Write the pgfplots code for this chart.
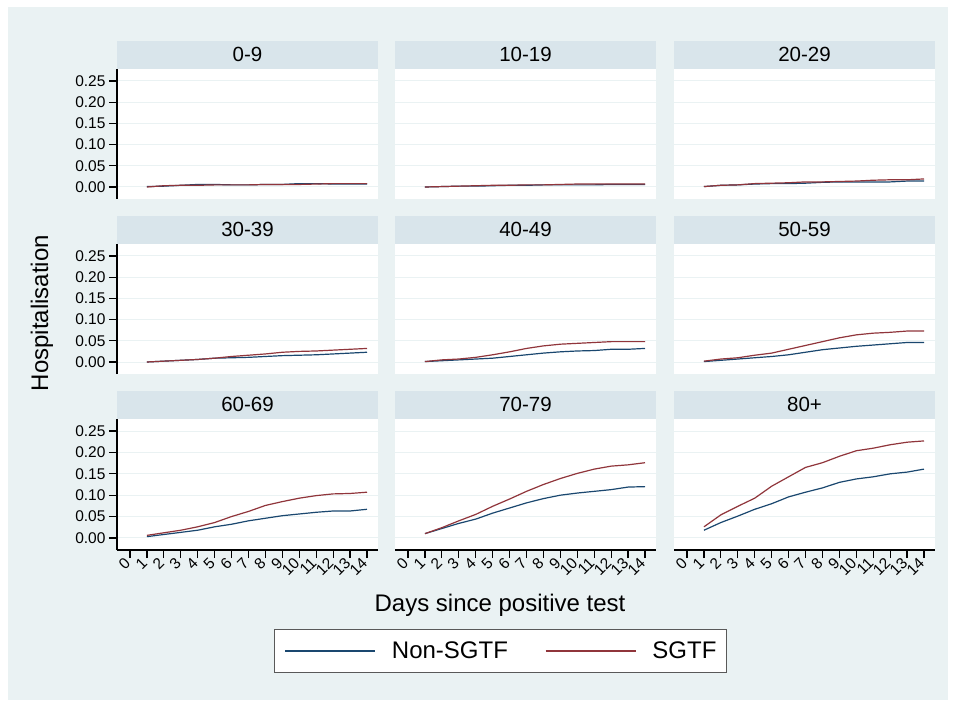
\documentclass[border=0pt]{standalone}
\usepackage{pgfplots}
\pgfplotsset{compat=1.18}
\usepackage{fontspec}
\setmainfont{Liberation Sans}

\definecolor{bgcol}{RGB}{234,242,243}
\definecolor{stripcol}{RGB}{217,229,235}
\definecolor{gridcol}{RGB}{234,242,243}
\definecolor{navy}{RGB}{26,71,111}
\definecolor{maroon}{RGB}{144,53,59}

\pgfplotsset{
  panel/.style={
    scale only axis, width=261pt, height=130pt,
    xmin=-0.77, xmax=14.65, ymin=-0.0283, ymax=0.2783,
    axis background/.style={fill=white},
    axis lines*=left,
    axis line style={line width=1.2pt, black},
    ytick={0,0.05,0.1,0.15,0.2,0.25},
    ymajorgrids, grid style={gridcol, line width=1pt},
    tick align=outside, major tick length=8pt,
    tick style={line width=1.2pt, black},
    /pgf/number format/assume math mode=true,
    yticklabel style={/pgf/number format/.cd, fixed, fixed zerofill, precision=2, /tikz/.cd,
      font=\fontsize{15.5}{18}\selectfont},
    every axis title/.style={at={(0.5,1)}, anchor=south, fill=stripcol,
      text width=261pt, minimum height=28pt, inner sep=0pt, align=center,
      font=\fontsize{20.5}{24}\selectfont},
    xtick=\empty,
    every axis plot/.append style={line width=1.2pt, no markers},
  },
  nox/.style={x axis line style={draw=none}},
  noy/.style={y axis line style={draw=none}, yticklabels={}, ytick style={draw=none}},
  withx/.style={xtick={0,...,14},
    xticklabel style={rotate=45, anchor=east, font=\fontsize{15.5}{18}\selectfont}},
}

\begin{document}
\begin{tikzpicture}[x=1pt,y=1pt]
\fill[white] (0,0) rectangle (957,702);
\fill[bgcol] (8,2) rectangle (948,695);

% row 1
\begin{axis}[panel, nox, at={(117pt,503pt)}, title={0-9}]
\addplot[navy] coordinates {(1,0.001) (2,0.002) (3,0.004) (4,0.006) (5,0.006) (6,0.005) (7,0.005) (8,0.006) (9,0.006) (10,0.008) (11,0.008) (12,0.007) (13,0.007) (14,0.007)};
\addplot[maroon] coordinates {(1,0.000) (2,0.003) (3,0.004) (4,0.004) (5,0.005) (6,0.005) (7,0.005) (8,0.006) (9,0.006) (10,0.006) (11,0.007) (12,0.008) (13,0.008) (14,0.008)};
\end{axis}
\begin{axis}[panel, nox, noy, at={(395pt,503pt)}, title={10-19}]
\addplot[navy] coordinates {(1,0.000) (2,0.001) (3,0.002) (4,0.002) (5,0.003) (6,0.004) (7,0.004) (8,0.005) (9,0.005) (10,0.005) (11,0.005) (12,0.006) (13,0.006) (14,0.006)};
\addplot[maroon] coordinates {(1,0.000) (2,0.001) (3,0.002) (4,0.003) (5,0.004) (6,0.004) (7,0.005) (8,0.005) (9,0.006) (10,0.007) (11,0.007) (12,0.007) (13,0.007) (14,0.007)};
\end{axis}
\begin{axis}[panel, nox, noy, at={(674pt,503pt)}, title={20-29}]
\addplot[navy] coordinates {(1,0.001) (2,0.004) (3,0.005) (4,0.007) (5,0.008) (6,0.008) (7,0.009) (8,0.011) (9,0.012) (10,0.012) (11,0.012) (12,0.012) (13,0.014) (14,0.014)};
\addplot[maroon] coordinates {(1,0.001) (2,0.004) (3,0.005) (4,0.008) (5,0.009) (6,0.010) (7,0.012) (8,0.012) (9,0.013) (10,0.014) (11,0.016) (12,0.017) (13,0.017) (14,0.019)};
\end{axis}

% row 2
\begin{axis}[panel, nox, at={(117pt,328pt)}, title={30-39}]
\addplot[navy] coordinates {(1,0.000) (2,0.002) (3,0.004) (4,0.006) (5,0.009) (6,0.010) (7,0.011) (8,0.013) (9,0.015) (10,0.016) (11,0.017) (12,0.019) (13,0.021) (14,0.023)};
\addplot[maroon] coordinates {(1,0.000) (2,0.002) (3,0.004) (4,0.006) (5,0.009) (6,0.013) (7,0.016) (8,0.019) (9,0.023) (10,0.025) (11,0.026) (12,0.028) (13,0.030) (14,0.032)};
\end{axis}
\begin{axis}[panel, nox, noy, at={(395pt,328pt)}, title={40-49}]
\addplot[navy] coordinates {(1,0.001) (2,0.003) (3,0.005) (4,0.007) (5,0.009) (6,0.013) (7,0.017) (8,0.021) (9,0.024) (10,0.026) (11,0.027) (12,0.030) (13,0.030) (14,0.032)};
\addplot[maroon] coordinates {(1,0.001) (2,0.005) (3,0.007) (4,0.011) (5,0.017) (6,0.024) (7,0.032) (8,0.038) (9,0.042) (10,0.044) (11,0.046) (12,0.048) (13,0.048) (14,0.048)};
\end{axis}
\begin{axis}[panel, nox, noy, at={(674pt,328pt)}, title={50-59}]
\addplot[navy] coordinates {(1,0.001) (2,0.004) (3,0.007) (4,0.010) (5,0.013) (6,0.017) (7,0.023) (8,0.029) (9,0.033) (10,0.037) (11,0.040) (12,0.043) (13,0.046) (14,0.046)};
\addplot[maroon] coordinates {(1,0.002) (2,0.007) (3,0.010) (4,0.016) (5,0.021) (6,0.030) (7,0.039) (8,0.048) (9,0.057) (10,0.064) (11,0.068) (12,0.070) (13,0.073) (14,0.073)};
\end{axis}

% row 3
\begin{axis}[panel, withx, at={(117pt,152pt)}, height=131pt, title={60-69}]
\addplot[navy] coordinates {(1,0.003) (2,0.008) (3,0.013) (4,0.018) (5,0.026) (6,0.032) (7,0.040) (8,0.046) (9,0.052) (10,0.056) (11,0.060) (12,0.063) (13,0.063) (14,0.067)};
\addplot[maroon] coordinates {(1,0.006) (2,0.012) (3,0.018) (4,0.026) (5,0.036) (6,0.050) (7,0.062) (8,0.076) (9,0.085) (10,0.093) (11,0.099) (12,0.103) (13,0.104) (14,0.107)};
\end{axis}
\begin{axis}[panel, withx, noy, at={(395pt,152pt)}, height=131pt, title={70-79},
  legend columns=2,
  legend image code/.code={\draw[#1, line width=1.5pt] (0pt,0pt) -- (90pt,0pt);},
  legend style={at={(0.404,-0.771)}, anchor=center, draw=black!65, line width=1pt,
    fill=white, inner xsep=10pt, inner ysep=9pt,
    font=\fontsize{24}{28}\selectfont, nodes={inner xsep=0pt, inner ysep=3pt},
    /tikz/every odd column/.append style={column sep=16pt},
    /tikz/every even column/.append style={column sep=37pt}}]
\addplot[navy] coordinates {(1,0.010) (2,0.022) (3,0.034) (4,0.044) (5,0.058) (6,0.070) (7,0.082) (8,0.092) (9,0.100) (10,0.105) (11,0.109) (12,0.113) (13,0.119) (14,0.120)};
\addlegendentry{Non-SGTF}
\addplot[maroon] coordinates {(1,0.010) (2,0.024) (3,0.040) (4,0.055) (5,0.074) (6,0.091) (7,0.109) (8,0.125) (9,0.139) (10,0.151) (11,0.161) (12,0.168) (13,0.171) (14,0.176)};
\addlegendentry{SGTF}
\end{axis}
\begin{axis}[panel, withx, noy, at={(674pt,152pt)}, height=131pt, title={80+}]
\addplot[navy] coordinates {(1,0.018) (2,0.036) (3,0.051) (4,0.067) (5,0.080) (6,0.096) (7,0.107) (8,0.117) (9,0.130) (10,0.138) (11,0.143) (12,0.150) (13,0.154) (14,0.161)};
\addplot[maroon] coordinates {(1,0.026) (2,0.054) (3,0.074) (4,0.093) (5,0.121) (6,0.143) (7,0.165) (8,0.176) (9,0.191) (10,0.204) (11,0.210) (12,0.218) (13,0.224) (14,0.227)};
\end{axis}

\node[rotate=90, font=\fontsize{24}{28}\selectfont] at (42,389) {Hospitalisation};
\node[font=\fontsize{24}{28}\selectfont] at (500,97) {Days since positive test};
\end{tikzpicture}
\end{document}
